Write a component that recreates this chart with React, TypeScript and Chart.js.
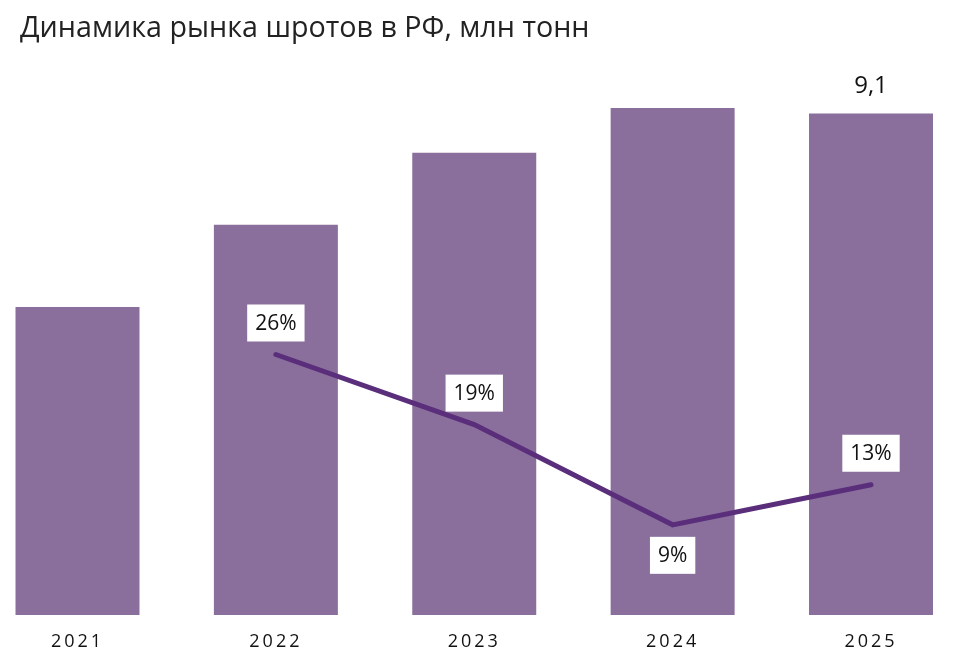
import React, { useEffect, useRef } from "react";
import { Chart, registerables } from "chart.js";

Chart.register(...registerables);

const titleText = "Динамика рынка шротов в РФ, млн тонн";
const years = ["2021", "2022", "2023", "2024", "2025"];
const volumes = [5.59, 7.08, 8.39, 9.2, 9.1];
const volumeLabels = ["", "", "", "", "9,1"];
const growthPct: (number | null)[] = [null, 26, 19, 9, 13];
const growthLabels = ["", "26%", "19%", "9%", "13%"];
const growthLabelBelow = [false, false, false, true, false];

const FONT = "'Open Sans', 'Noto Sans', sans-serif";

const labelsPlugin = {
  id: "customLabels",
  afterDatasetsDraw(chart: any) {
    const ctx = chart.ctx as CanvasRenderingContext2D;
    ctx.save();
    ctx.textAlign = "center";
    ctx.textBaseline = "middle";
    const barMeta = chart.getDatasetMeta(0);
    ctx.font = `24px ${FONT}`;
    ctx.fillStyle = "#111111";
    barMeta.data.forEach((el: any, i: number) => {
      const t = volumeLabels[i];
      if (!t) return;
      ctx.fillText(t, el.x, el.y - 27);
    });
    const lineMeta = chart.getDatasetMeta(1);
    ctx.font = `21px ${FONT}`;
    lineMeta.data.forEach((pt: any, i: number) => {
      const t = growthLabels[i];
      if (!t || growthPct[i] == null) return;
      const w = ctx.measureText(t).width + 16;
      const h = 37;
      const cy = growthLabelBelow[i] ? pt.y + 12 + h / 2 : pt.y - 13 - h / 2;
      ctx.fillStyle = "#ffffff";
      ctx.fillRect(pt.x - w / 2, cy - h / 2, w, h);
      ctx.fillStyle = "#111111";
      ctx.fillText(t, pt.x, cy + 1);
    });
    ctx.restore();
    (ctx as any).letterSpacing = "3px";
  },
  afterDraw(chart: any) {
    (chart.ctx as any).letterSpacing = "0px";
  },
};

export default function App() {
  const ref = useRef<HTMLCanvasElement | null>(null);
  useEffect(() => {
    if (!ref.current) return;
    const chart = new Chart(ref.current, {
      type: "bar",
      data: {
        labels: years,
        datasets: [
          {
            type: "bar",
            data: volumes,
            backgroundColor: "#8a6f9d",
            borderWidth: 0,
            categoryPercentage: 1,
            barPercentage: 0.625,
            yAxisID: "y",
            order: 1,
            clip: false,
          },
          {
            type: "line",
            data: growthPct,
            borderColor: "#5a2e7a",
            borderWidth: 5,
            borderCapStyle: "round",
            pointRadius: 0,
            tension: 0,
            fill: false,
            yAxisID: "y1",
            order: 0,
            clip: false,
          } as any,
        ],
      },
      options: {
        responsive: false,
        animation: false,
        layout: { padding: { left: 20, right: 0, top: 0, bottom: 0 } },
        plugins: {
          legend: { display: false },
          tooltip: { enabled: false },
          title: {
            display: true,
            text: titleText,
            align: "start",
            color: "#222222",
            font: { family: FONT, size: 28.7, weight: "normal" },
            padding: { top: 12, bottom: 17.5 },
          },
        },
        scales: {
          x: {
            type: "category",
            offset: false,
            grid: { display: false, drawTicks: false },
            border: { display: false },
            ticks: {
              z: 1,
              color: "#111111",
              font: { family: FONT, size: 18 },
              padding: 16,
              maxRotation: 0,
              autoSkip: false,
            },
            afterFit: (s: any) => {
              s.height = 51;
            },
          },
          y: {
            position: "left",
            min: 0,
            max: 10,
            ticks: { display: false },
            grid: { display: false, drawTicks: false },
            border: { display: false },
            afterFit: (s: any) => {
              s.width = 57.5;
            },
          },
          y1: {
            position: "right",
            min: 0,
            max: 55,
            ticks: { display: false },
            grid: { display: false, drawTicks: false },
            border: { display: false },
            afterFit: (s: any) => {
              s.width = 91;
            },
          },
        },
      } as any,
      plugins: [labelsPlugin],
    });
    return () => chart.destroy();
  }, []);
  return (
    <div style={{ position: "fixed", left: 0, top: 0, width: 962, height: 666, background: "#fff" }}>
      <canvas ref={ref} width={962} height={666} style={{ display: "block" }} />
    </div>
  );
}
